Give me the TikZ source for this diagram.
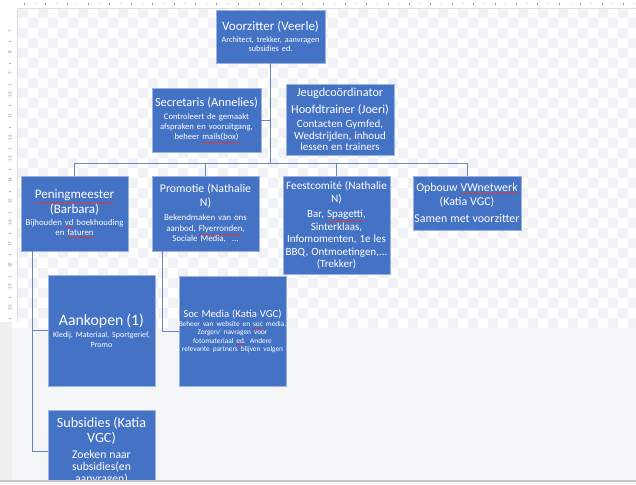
\documentclass[tikz,border=0pt]{standalone}
\usepackage{fontspec}
\setmainfont{Carlito}
\definecolor{boxblue}{HTML}{4472C4}
\definecolor{boxedge}{HTML}{9DB3DF}
\definecolor{connc}{HTML}{6A87BD}
\definecolor{chk}{HTML}{F0F2F5}
\definecolor{lowbg}{HTML}{F5F6F8}
\definecolor{rulc}{HTML}{909090}
\definecolor{spellc}{HTML}{D83A3A}
\hyphenpenalty=10000
\exhyphenpenalty=10000
\newcommand\spl[1]{\textcolor{spellc}{\underline{\textcolor{white}{#1}}}}
\newcommand\fsz[2]{\fontsize{#1}{#2}\selectfont}
\tikzset{
  orgbox/.style={fill=boxblue, draw=boxedge, line width=0.7pt, text=white,
    align=center, inner ysep=0pt, text width=118pt, font=\fsz{9}{10}},
  w107/.style={minimum width=107pt, inner xsep=-5.5pt},
  w108/.style={minimum width=108pt, inner xsep=-5pt},
  w109/.style={minimum width=109pt, inner xsep=-4.5pt},
  conn/.style={draw=connc, line width=0.9pt},
  rulnum/.style={text=rulc, font=\fsz{5}{5}, rotate=90, inner sep=0pt},
}
\begin{document}
\begin{tikzpicture}[x=1pt,y=-1pt]
\useasboundingbox (0,0) rectangle (636,484);
% ---- background ----
\fill[white] (0,0) rectangle (636,484);
\begin{scope}
\clip (18,8) rectangle (636,328);
\foreach \i in {0,...,62}{
  \foreach \j in {0,...,32}{
    \pgfmathtruncatemacro\p{mod(\i+\j,2)}
    \ifnum\p=0 \fill[chk] (18+\i*10,8+\j*10) rectangle ++(10,10);\fi
  }}
\end{scope}
\fill[lowbg] (12,328) rectangle (636,480);
\fill[gray!12] (0,322) rectangle (12,480);
\draw[gray!25, line width=0.5pt] (18,8) -- (636,8);
\draw[gray!25, line width=0.5pt] (17,8) -- (17,322);
% top ruler ticks
\foreach \k in {0,...,57}{
  \pgfmathsetmacro\xx{24+\k*10.7}
  \pgfmathtruncatemacro\q{mod(\k,2)}
  \ifnum\q=0 \draw[rulc, line width=0.6pt] (\xx,3) -- (\xx,5);
  \else \draw[rulc!60, line width=0.4pt] (\xx,3.5) -- (\xx,4.5);\fi
}
% left ruler numbers
\foreach \n [count=\c from 0] in {7,8,9,10,11,12,13,14,15,16,17,18,19,20}{
  \node[rulnum] (r\n) at (10,31+\c*21.3) {\n};
  \draw[rulc!70, line width=0.4pt] (9,41.6+\c*21.3) -- (11,41.6+\c*21.3);
}
% ---- boxes ----
\node[orgbox, w109, minimum height=53pt] (voor) at (270.5,36.5)
 {\fsz{13}{15}Voorzitter (Veerle)\par\vspace{2pt}\fsz{8.2}{9.6}Architect, trekker, aanvragen\\subsidies ed.\par};
\node[orgbox, w109, minimum height=64pt] (secr) at (206.5,120)
 {\fsz{12.4}{14}Secretaris (Annelies)\par\vspace{3pt}\fsz{8.6}{10}Controleert de gemaakt\\afspraken en vooruitgang,\\beheer \spl{mails(box)}\par};
\node[orgbox, w108, minimum height=71pt] (jeug) at (340,119.5)
 {\fsz{12.2}{14}Jeugdcoördinator\par\vspace{3pt}Hoofdtrainer (Joeri)\par\vspace{3pt}\fsz{11}{11.5}Contacten Gymfed,\\Wedstrijden, inhoud\\lessen en trainers\par};
\node[orgbox, w107, minimum height=75pt] (pen) at (74.5,213.5)
 {\fsz{13}{15}\spl{Peningmeester}\\(Barbara)\par\vspace{2pt}\fsz{8.8}{10}Bijhouden \spl{vd} boekhouding\\en \spl{faturen}\par};
\node[orgbox, w107, minimum height=75pt] (prom) at (205.5,213.5)
 {\fsz{11.8}{14}Promotie (Nathalie\\N)\par\vspace{4pt}\fsz{8.9}{10.5}Bekendmaken van ons\\aanbod, \spl{Flyerronden},\\Sociale Media,\ \ ...\par};
\node[orgbox, w107, minimum height=98pt] (fees) at (336.5,225)
 {\fsz{11.3}{13}Feestcomité (Nathalie\\N)\par\vspace{3pt}\fsz{11}{12.5}Bar, \spl{Spagetti},\\Sinterklaas,\\Infomomenten, 1e les\\BBQ, Ontmoetingen,...\\(Trekker)\par};
\node[orgbox, w108, minimum height=54pt] (opb) at (467,203)
 {\fsz{11.9}{14}Opbouw \spl{VWnetwerk}\\(Katia VGC)\par\vspace{3pt}Samen met voorzitter\par};
\node[orgbox, w107, minimum height=111pt] (aank) at (101.5,330.5)
 {\fsz{15.8}{18}Aankopen (1)\par\vspace{3pt}\fsz{8}{9.5}Kledij, Materiaal, Sportgerief,\\Promo\par};
\node[orgbox, w107, minimum height=110pt] (socm) at (232.5,331)
 {\fsz{10.7}{13}Soc Media (Katia VGC)\par\vspace{1pt}\fsz{7.3}{8.3}Beheer van website en \spl{soc} media.\\Zorgen/ navragen voor\\fotomateriaal \spl{ed}. Andere\\relevante partners blijven volgen\par};
\begin{scope}
\clip (0,0) rectangle (636,480);
\node[orgbox, w107, minimum height=82pt] (subs) at (101.5,451)
 {\fsz{14.2}{15.5}Subsidies (Katia\\VGC)\par\vspace{4pt}\fsz{11.7}{12}Zoeken naar\\subsidies(en\\aanvragen)\par};
\end{scope}
% ---- connectors ----
\coordinate (bar) at (270.5,163);
\coordinate (pl) at (32,251);
\coordinate (pm) at (162,251);
\draw[conn] (voor.south) -- (bar);
\draw[conn] (secr.east) -- (secr.east -| voor.south);
\draw[conn] (pen.north) -- (pen.north |- bar) -- (opb.north |- bar) -- (opb.north);
\draw[conn] (prom.north) -- (prom.north |- bar);
\draw[conn] (fees.north) -- (fees.north |- bar);
\draw[conn] (pl) |- (aank.west);
\draw[conn] (pl) |- (subs.west);
\draw[conn] (pm) |- (socm.west);
% bottom edge
\fill[gray!45] (0,480) rectangle (636,481.5);
\fill[gray!8] (0,481.5) rectangle (636,484);
\end{tikzpicture}
\end{document}
